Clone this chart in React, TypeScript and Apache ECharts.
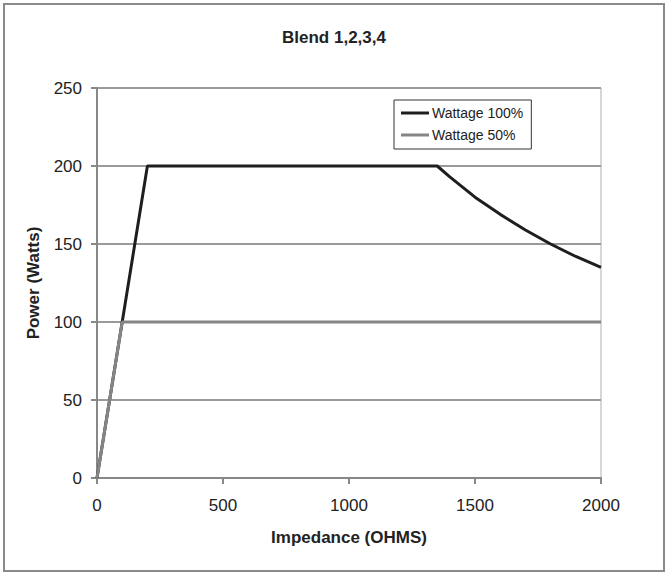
import React, { useEffect, useRef } from "react";
import * as echarts from "echarts";

const titleText = "Blend 1,2,3,4";
const xAxisName = "Impedance (OHMS)";
const yAxisName = "Power (Watts)";
const seriesNames = ["Wattage 100%", "Wattage 50%"];
const impedance100 = [0, 200, 1350, 1400, 1500, 1600, 1620, 1700, 1800, 1900, 2000];
const watts100 = [0, 200, 200, 193, 180, 169, 167, 159, 150, 142, 135];
const impedance50 = [0, 100, 2000];
const watts50 = [0, 100, 100];

const FONT = "'Liberation Sans', Arial, sans-serif";

export default function App() {
  const ref = useRef<HTMLDivElement>(null);
  useEffect(() => {
    document.body.style.margin = "0";
    const chart = echarts.init(ref.current!, null, { renderer: "svg" });
    chart.setOption({
      animation: false,
      backgroundColor: "#ffffff",
      textStyle: { fontFamily: FONT },
      title: {
        text: titleText,
        left: "center",
        top: 24,
        textStyle: { fontSize: 17, fontWeight: "bold", color: "#222", fontFamily: FONT },
      },
      graphic: [
        {
          type: "rect",
          shape: { x: 4, y: 4, width: 660, height: 567 },
          style: { fill: "none", stroke: "#8a8a8a", lineWidth: 2 },
          z: 0,
        },
      ],
      grid: {
        left: 97,
        right: 67,
        top: 88,
        bottom: 98,
        show: true,
        borderColor: "#b0b0b0",
        borderWidth: 1,
        backgroundColor: "transparent",
      },
      legend: {
        orient: "vertical",
        left: 394,
        top: 100,
        padding: [6, 8, 7, 7],
        itemGap: 8,
        itemWidth: 28,
        itemHeight: 3,
        icon: "rect",
        borderColor: "#333",
        borderWidth: 1,
        backgroundColor: "#fff",
        textStyle: { fontSize: 14, color: "#222", fontFamily: FONT, padding: [0, 0, 0, -2] },
        data: seriesNames,
      },
      xAxis: {
        type: "value",
        min: 0,
        max: 2000,
        interval: 500,
        name: xAxisName,
        nameLocation: "middle",
        nameGap: 51,
        nameTextStyle: { fontSize: 17, fontWeight: "bold", color: "#222", fontFamily: FONT },
        axisLine: { show: true, lineStyle: { color: "#888", width: 2 } },
        axisTick: { show: true, length: 6, lineStyle: { color: "#888", width: 2 } },
        axisLabel: { fontSize: 17, color: "#222", margin: 19, fontFamily: FONT, formatter: (v: number) => String(v) },
        splitLine: { show: false },
      },
      yAxis: {
        type: "value",
        min: 0,
        max: 250,
        interval: 50,
        name: yAxisName,
        nameLocation: "middle",
        nameGap: 55,
        nameTextStyle: { fontSize: 17, fontWeight: "bold", color: "#222", fontFamily: FONT },
        axisLine: { show: true, lineStyle: { color: "#888", width: 2 } },
        axisTick: { show: true, length: 6, lineStyle: { color: "#888", width: 2 } },
        axisLabel: { fontSize: 17, color: "#222", margin: 15, fontFamily: FONT },
        splitLine: { show: true, lineStyle: { color: "#9a9a9a", width: 2 } },
      },
      series: [
        {
          name: seriesNames[0],
          type: "line",
          symbol: "none",
          data: impedance100.map((x, i) => [x, watts100[i]]),
          lineStyle: { color: "#1e1e1e", width: 3 },
          itemStyle: { color: "#1e1e1e" },
          z: 3,
        },
        {
          name: seriesNames[1],
          type: "line",
          symbol: "none",
          data: impedance50.map((x, i) => [x, watts50[i]]),
          lineStyle: { color: "#858585", width: 3 },
          itemStyle: { color: "#858585" },
          z: 4,
        },
      ],
    });
    return () => chart.dispose();
  }, []);
  return <div ref={ref} style={{ position: "absolute", left: 0, top: 0, width: 668, height: 576 }} />;
}
